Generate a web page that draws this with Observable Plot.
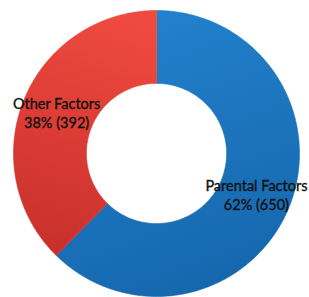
<!DOCTYPE html>
<html>
<head>
<meta charset="utf-8">
<script src="https://cdn.jsdelivr.net/npm/d3@7"></script>
<script src="https://cdn.jsdelivr.net/npm/@observablehq/plot@0.6"></script>
<style>
  html, body { margin: 0; padding: 0; background: #ffffff; }
  #chart svg { display: block; }
</style>
</head>
<body>
<div id="chart"></div>
<script>
// Chart data
const categories = ["Parental Factors", "Other Factors"];
const counts = [650, 392];
const percentLabels = ["62%", "38%"];
const sliceColors = ["#1b75c0", "#e3403a"];
const sliceGradients = ["url(#gBlue)", "url(#gRed)"];

const innerRatio = 0.49;
const labelRadius = 0.755;
const total = d3.sum(counts);

// Build donut slice outlines (in unit data space) from the values
const ring = [];
const labels = [];
let acc = 0;
categories.forEach((cat, i) => {
  const a0 = acc / total * 2 * Math.PI;
  acc += counts[i];
  const a1 = acc / total * 2 * Math.PI;
  const steps = Math.max(8, Math.ceil((a1 - a0) / (Math.PI / 180)));
  for (let k = 0; k <= steps; k++) {
    const a = a0 + (a1 - a0) * k / steps;
    ring.push({cat, x: Math.sin(a), y: Math.cos(a)});
  }
  for (let k = steps; k >= 0; k--) {
    const a = a0 + (a1 - a0) * k / steps;
    ring.push({cat, x: innerRatio * Math.sin(a), y: innerRatio * Math.cos(a)});
  }
  const am = (a0 + a1) / 2;
  labels.push({
    cat,
    x: labelRadius * Math.sin(am),
    y: labelRadius * Math.cos(am),
    text: cat + "\n" + percentLabels[i] + " (" + counts[i] + ")"
  });
});

const chart = Plot.plot({
  width: 309,
  height: 297,
  marginLeft: 13,
  marginRight: 10,
  marginTop: 10,
  marginBottom: 1,
  x: {domain: [-1, 1], axis: null},
  y: {domain: [-1, 1], axis: null},
  color: {domain: categories, range: sliceGradients},
  style: {background: "#ffffff", overflow: "visible"},
  marks: [
    Plot.line(ring, {x: "x", y: "y", z: "cat", fill: "cat", stroke: "cat", strokeWidth: 0.6, curve: "linear-closed"}),
    Plot.text(labels, {
      x: "x", y: "y", text: "text",
      fontFamily: "Lato", fontSize: 14.5, fontWeight: "normal",
      fill: "#111111", stroke: "#111111", strokeWidth: 0.35,
      lineHeight: 1.3, dy: 0
    })
  ]
});

// gradient definitions for the shaded slices
const ns = "http://www.w3.org/2000/svg";
const defs = document.createElementNS(ns, "defs");
function grad(id, c1, c2, x1, y1, x2, y2) {
  const g = document.createElementNS(ns, "linearGradient");
  g.setAttribute("id", id);
  g.setAttribute("x1", x1); g.setAttribute("y1", y1);
  g.setAttribute("x2", x2); g.setAttribute("y2", y2);
  [[0, c1], [1, c2]].forEach(([o, c]) => {
    const s = document.createElementNS(ns, "stop");
    s.setAttribute("offset", o);
    s.setAttribute("stop-color", c);
    g.appendChild(s);
  });
  defs.appendChild(g);
}
grad("gBlue", "#2381cc", "#1567ad", "0.3", "0", "0.6", "1");
grad("gRed", "#ef4a3f", "#c9302c", "0.6", "0", "0.4", "1");
chart.insertBefore(defs, chart.firstChild);

document.getElementById("chart").appendChild(chart);
</script>
</body>
</html>
